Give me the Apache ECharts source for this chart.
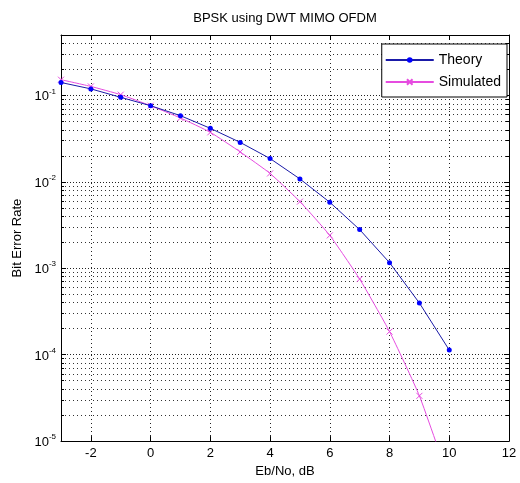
<!DOCTYPE html>
<html>
<head>
<meta charset="utf-8">
<script src="https://cdn.jsdelivr.net/npm/echarts@6/dist/echarts.min.js"></script>
<style>
html, body { margin: 0; padding: 0; background: #fff; }
#chart { width: 520px; height: 483px; }
</style>
</head>
<body>
<div id="chart"></div>
<script>
var snr = [-3, -2, -1, 0, 1, 2, 3, 4, 5, 6, 7, 8, 9, 10];
var theory = [0.141, 0.119, 0.095, 0.076, 0.0583, 0.0416, 0.0286, 0.0186, 0.0108, 0.0058, 0.0028, 0.00116, 0.000396, 0.000113];
var simulated = [0.152, 0.127, 0.102, 0.076, 0.0548, 0.0374, 0.0222, 0.0125, 0.0059, 0.0024, 0.00075, 0.000185, 0.0000334, 0.0000035];
var xTicks = [-2, 0, 2, 4, 6, 8, 10, 12];
var yDecades = [1e-5, 1e-4, 1e-3, 1e-2, 1e-1];
var yMinorSteps = [2, 3, 4, 5, 6, 7, 8, 9];
var yMax = 0.5;

// minor log ticks (2..9 in each decade), up to the top of the axis
var yMinor = [];
yDecades.forEach(function (d) {
  yMinorSteps.forEach(function (m) {
    var v = d * m;
    if (v <= yMax * 1.0001) yMinor.push(v);
  });
});

var font = "'Liberation Sans', Arial, sans-serif";
var myChart = echarts.init(document.getElementById('chart'));

function pairs(xs, ys) {
  return xs.map(function (x, i) { return [x, ys[i]]; });
}

function yAxisDef(position, ticks, major) {
  return {
    type: 'log',
    logBase: 10,
    min: 1e-5,
    max: yMax,
    position: position,
    axisLine: { show: major, onZero: false, lineStyle: { color: '#000', width: 1 } },
    axisTick: {
      show: true,
      inside: true,
      length: major ? 5 : 3,
      customValues: ticks,
      lineStyle: { color: '#000', width: 1 }
    },
    axisLabel: { show: false },
    splitLine: {
      show: position === 'left',
      lineStyle: { color: major ? '#222' : '#333', width: 1, type: major ? [1, 2] : [1, 3] }
    }
  };
}

var yLeft = yAxisDef('left', yDecades, true);
yLeft.name = 'Bit Error Rate';
yLeft.nameLocation = 'middle';
yLeft.nameGap = 37;
yLeft.nameTextStyle = { color: '#000', fontSize: 13, fontFamily: font };
yLeft.axisLabel = {
  show: true,
  customValues: yDecades,
  margin: 5,
  formatter: function (v) {
    return '{b|10}{s|' + Math.round(Math.log10(v)) + '}';
  },
  rich: {
    b: { fontSize: 13, color: '#000', fontFamily: font, verticalAlign: 'bottom' },
    s: { fontSize: 8, color: '#000', fontFamily: font, verticalAlign: 'top', padding: [0, 0, 8, 0] }
  }
};

var option = {
  backgroundColor: '#fff',
  animation: false,
  title: {
    text: 'BPSK using DWT MIMO OFDM',
    left: 280,
    top: 7,
    textAlign: 'center',
    textStyle: { color: '#000', fontSize: 13, fontWeight: 'normal', fontFamily: font }
  },
  grid: { left: 61, right: 11, top: 35, bottom: 41, containLabel: false },
  legend: {
    right: 13,
    top: 44,
    orient: 'vertical',
    itemWidth: 48,
    itemHeight: 7,
    itemGap: 8,
    padding: [9, 6, 8, 3],
    backgroundColor: '#fff',
    borderColor: '#000',
    borderWidth: 1,
    borderRadius: 0,
    textStyle: { color: '#000', fontSize: 14, fontFamily: font }
  },
  xAxis: [{
    type: 'value',
    min: -3,
    max: 12,
    position: 'bottom',
    name: 'Eb/No, dB',
    nameLocation: 'middle',
    nameGap: 15,
    nameTextStyle: { color: '#000', fontSize: 13, fontFamily: font },
    axisLine: { onZero: false, lineStyle: { color: '#000', width: 1 } },
    axisTick: { inside: true, length: 5, customValues: xTicks, lineStyle: { color: '#000' } },
    axisLabel: { customValues: xTicks, margin: 6, color: '#000', fontSize: 13, fontFamily: font },
    splitLine: { show: true, lineStyle: { color: '#222', width: 1, type: [1, 3] } }
  }, {
    type: 'value',
    min: -3,
    max: 12,
    position: 'top',
    axisLine: { onZero: false, lineStyle: { color: '#000', width: 1 } },
    axisTick: { inside: true, length: 5, customValues: xTicks, lineStyle: { color: '#000' } },
    axisLabel: { show: false },
    splitLine: { show: false }
  }],
  yAxis: [
    yLeft,
    yAxisDef('left', yMinor, false),
    yAxisDef('right', yDecades, true),
    yAxisDef('right', yMinor, false)
  ],
  series: [{
    name: 'Theory',
    type: 'line',
    data: pairs(snr, theory),
    symbol: 'circle',
    symbolSize: 5,
    showAllSymbol: true,
    lineStyle: { color: '#1a1aa8', width: 1 },
    itemStyle: { color: '#0000ff' },
    z: 3
  }, {
    name: 'Simulated',
    type: 'line',
    data: pairs(snr, simulated),
    smooth: 0.15,
    symbol: 'path://M0,0L10,10M10,0L0,10',
    symbolSize: 6,
    showAllSymbol: true,
    lineStyle: { color: '#e64ce0', width: 1 },
    itemStyle: { color: 'none', borderColor: '#e64ce0', borderWidth: 1 },
    z: 2
  }]
};

myChart.setOption(option);
</script>
</body>
</html>
